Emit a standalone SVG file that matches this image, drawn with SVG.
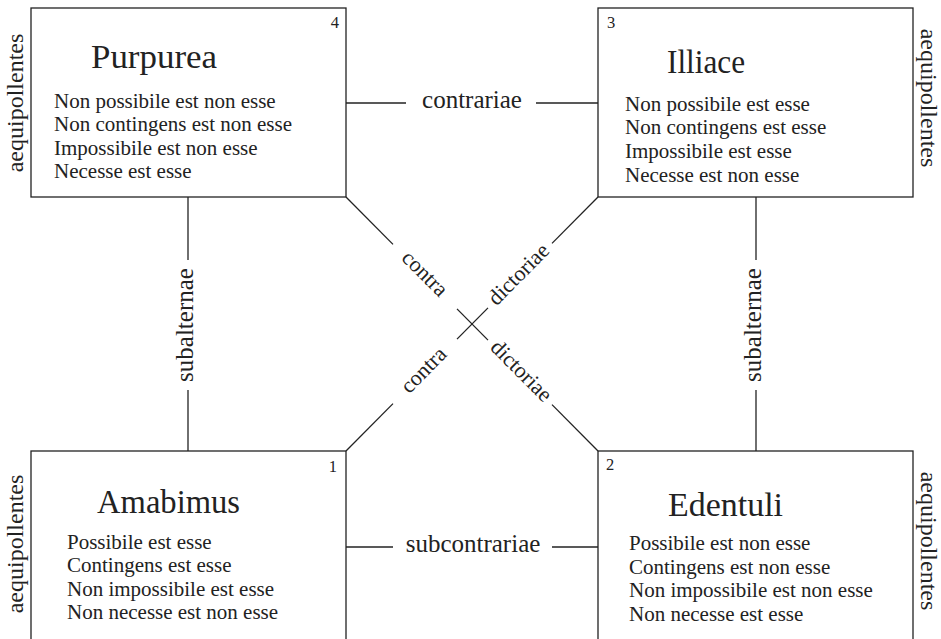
<svg xmlns="http://www.w3.org/2000/svg" width="941" height="639" viewBox="0 0 941 639">
<style>
.box{fill:#fff;stroke:#222;stroke-width:1.3}
.title{font-size:33px}
.body{font-size:21px}
.num{font-size:16.5px}
.lbl{font-size:25px;text-anchor:middle}
.dlbl{font-size:22px;text-anchor:middle}
.side{font-size:24px;text-anchor:middle}
#connectors line{stroke:#222;stroke-width:1.3;fill:none}
</style>
<rect width="941" height="639" fill="#fff"/>
<g font-family="'Liberation Serif', 'Times New Roman', 'DejaVu Serif', serif" fill="#222">
<g id="node4">
<rect class="box" x="31" y="8" width="315" height="189"/>
<text class="num" x="339" y="28" text-anchor="end">4</text>
<text class="title" x="91" y="68" textLength="126" lengthAdjust="spacingAndGlyphs">Purpurea</text>
<text class="body" x="54" y="108">Non possibile est non esse</text>
<text class="body" x="54" y="131">Non contingens est non esse</text>
<text class="body" x="54" y="154.5">Impossibile est non esse</text>
<text class="body" x="54" y="177.5">Necesse est esse</text>
<text class="side" transform="translate(23,103) rotate(-90)">aequipollentes</text>
</g>
<g id="node3">
<rect class="box" x="598" y="8" width="315" height="189"/>
<text class="num" x="607" y="28">3</text>
<text class="title" x="667" y="73" textLength="78" lengthAdjust="spacingAndGlyphs">Illiace</text>
<text class="body" x="625" y="110.5">Non possibile est esse</text>
<text class="body" x="625" y="134">Non contingens est esse</text>
<text class="body" x="625" y="158">Impossibile est esse</text>
<text class="body" x="625" y="181.5">Necesse est non esse</text>
<text class="side" transform="translate(921,98) rotate(90)">aequipollentes</text>
</g>
<g id="node1">
<rect class="box" x="31" y="451" width="315" height="200"/>
<text class="num" x="337" y="472" text-anchor="end">1</text>
<text class="title" x="97" y="513" textLength="143" lengthAdjust="spacingAndGlyphs">Amabimus</text>
<text class="body" x="67" y="548.5">Possibile est esse</text>
<text class="body" x="67" y="572">Contingens est esse</text>
<text class="body" x="67" y="595.5">Non impossibile est esse</text>
<text class="body" x="67" y="619">Non necesse est non esse</text>
<text class="side" transform="translate(23,544) rotate(-90)">aequipollentes</text>
</g>
<g id="node2">
<rect class="box" x="598" y="451" width="315" height="200"/>
<text class="num" x="606" y="470">2</text>
<text class="title" x="668" y="516" textLength="115" lengthAdjust="spacingAndGlyphs">Edentuli</text>
<text class="body" x="629" y="550">Possibile est non esse</text>
<text class="body" x="629" y="573.5">Contingens est non esse</text>
<text class="body" x="629" y="597">Non impossibile est non esse</text>
<text class="body" x="629" y="620.5">Non necesse est esse</text>
<text class="side" transform="translate(921,541) rotate(90)">aequipollentes</text>
</g>
<g id="connectors">
<line x1="346" y1="103" x2="406" y2="103"/>
<line x1="536" y1="103" x2="598" y2="103"/>
<text class="lbl" x="472" y="108">contrariae</text>
<line x1="346" y1="547" x2="393" y2="547"/>
<line x1="552" y1="547" x2="598" y2="547"/>
<text class="lbl" x="473" y="552">subcontrariae</text>
<line x1="188" y1="197" x2="188" y2="260"/>
<line x1="188" y1="390" x2="188" y2="451"/>
<text class="lbl" transform="translate(193,325) rotate(-90)">subalternae</text>
<line x1="756" y1="197" x2="756" y2="260"/>
<line x1="756" y1="390" x2="756" y2="451"/>
<text class="lbl" transform="translate(761,325) rotate(-90)">subalternae</text>
<line x1="346" y1="197" x2="393" y2="244.4"/>
<line x1="457" y1="308.9" x2="488" y2="340.1"/>
<line x1="552" y1="404.6" x2="598" y2="451"/>
<line x1="598" y1="197" x2="552" y2="243.4"/>
<line x1="488" y1="307.9" x2="457" y2="339.1"/>
<line x1="393" y1="403.6" x2="346" y2="451"/>
<text class="dlbl" transform="translate(419.9,278.5) rotate(45.2)">contra</text>
<text class="dlbl" transform="translate(516.4,375.8) rotate(45.2)">dictoriae</text>
<text class="dlbl" transform="translate(523.5,279.1) rotate(-45.2)">dictoriae</text>
<text class="dlbl" transform="translate(428.5,374.9) rotate(-45.2)">contra</text>
</g>
</g>
</svg>
